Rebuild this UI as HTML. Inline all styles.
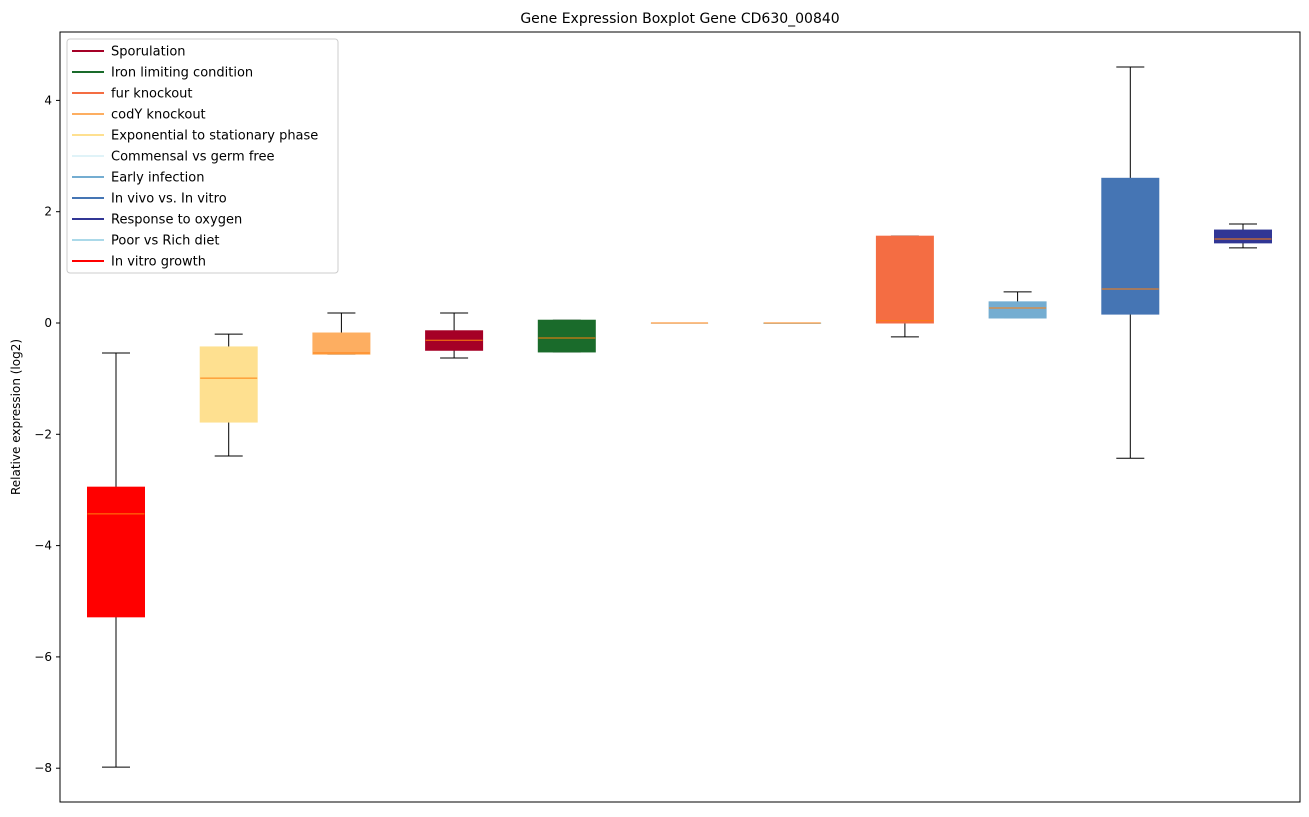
<!DOCTYPE html>
<html><head><meta charset="utf-8"><style>
body{margin:0;background:#fff;font-family:"Liberation Sans","DejaVu Sans",sans-serif;}
svg text{font-family:"DejaVu Sans","Liberation Sans",sans-serif;}
</style></head><body>
<svg id="chart" width="1309" height="812" xmlns="http://www.w3.org/2000/svg"></svg>
<script>
const categories=["In vitro growth","Exponential to stationary phase","codY knockout","Sporulation","Iron limiting condition","Commensal vs germ free","Poor vs Rich diet","fur knockout","Early infection","In vivo vs. In vitro","Response to oxygen"];
const whiskerLow=[-7.98,-2.39,-0.56,-0.63,-0.52,0,0,-0.25,0.09,-2.43,1.35];
const q1Values=[-5.28,-1.78,-0.56,-0.49,-0.52,0,0,0,0.09,0.16,1.44];
const medianValues=[-3.43,-0.99,-0.54,-0.31,-0.27,0,0,0.04,0.27,0.61,1.51];
const q3Values=[-2.95,-0.43,-0.18,-0.14,0.05,0,0,1.56,0.38,2.6,1.67];
const whiskerHigh=[-0.54,-0.2,0.18,0.18,0.05,0,0,1.56,0.56,4.6,1.78];
const boxColors=["#ff0000","#fee090","#fdae61","#a50026","#1a6b2b","#e0f3f8","#abd9e9","#f46d43","#74add1","#4575b4","#313695"];
const yTicks=[-8,-6,-4,-2,0,2,4];
const legendLabels=["Sporulation","Iron limiting condition","fur knockout","codY knockout","Exponential to stationary phase","Commensal vs germ free","Early infection","In vivo vs. In vitro","Response to oxygen","Poor vs Rich diet","In vitro growth"];
const legendColors=["#a50026","#1a6b2b","#f46d43","#fdae61","#fee090","#e0f3f8","#74add1","#4575b4","#313695","#abd9e9","#ff0000"];

const NS="http://www.w3.org/2000/svg";
const svg=document.getElementById('chart');
const L=60,R=1300,T=32,B=802;
const y=v=>323-v*55.65;
const x=i=>116+i*112.7;
function mk(tag,attrs,parent){const e=document.createElementNS(NS,tag);for(const k in attrs)e.setAttribute(k,attrs[k]);(parent||svg).appendChild(e);return e;}

let t=mk('text',{x:680,y:23,'text-anchor':'middle','font-size':14,fill:'#000'});t.textContent="Gene Expression Boxplot Gene CD630_00840";


t=mk('text',{x:20,y:417,'text-anchor':'middle','font-size':12,transform:'rotate(-90 20 417)'});t.textContent="Relative expression (log2)";



yTicks.forEach(v=>{
  mk('line',{x1:L-4,x2:L,y1:y(v),y2:y(v),stroke:'#000'});
  const tx=mk('text',{x:L-8,y:y(v)+4,'text-anchor':'end','font-size':12});
  tx.textContent=(v<0?'\u2212'+(-v):v);
  
  
});

categories.forEach((c,i)=>{
  const g=mk('g',{});
  
  
  const cx=x(i),hw=28.5,cw=14;
  mk('line',{x1:cx,x2:cx,y1:y(whiskerHigh[i]),y2:y(q3Values[i]),stroke:'#000'},g);
  mk('line',{x1:cx,x2:cx,y1:y(q1Values[i]),y2:y(whiskerLow[i]),stroke:'#000'},g);
  mk('line',{x1:cx-cw,x2:cx+cw,y1:y(whiskerHigh[i]),y2:y(whiskerHigh[i]),stroke:'#000'},g);
  mk('line',{x1:cx-cw,x2:cx+cw,y1:y(whiskerLow[i]),y2:y(whiskerLow[i]),stroke:'#000'},g);
  const top=y(q3Values[i]),bot=y(q1Values[i]);
  mk('rect',{x:cx-hw,y:top,width:2*hw,height:Math.max(bot-top,0.5),fill:boxColors[i],stroke:boxColors[i]},g);
  mk('line',{x1:cx-hw,x2:cx+hw,y1:y(medianValues[i]),y2:y(medianValues[i]),stroke:'#ff7f0e','stroke-width':1},g);
});

mk('rect',{x:L,y:T,width:R-L,height:B-T,fill:'none',stroke:'#000'});

const lg=mk('g',{});


mk('rect',{x:67,y:39,width:271,height:234,fill:'#fff','fill-opacity':0.8,stroke:'#ccc',rx:3},lg);
legendLabels.forEach((s,i)=>{
  const ly=51+i*21;
  const e=mk('g',{},lg);
  
  
  mk('line',{x1:72,x2:104,y1:ly,y2:ly,stroke:legendColors[i],'stroke-width':2},e);
  const tx=mk('text',{x:111,y:ly+4.5,'font-size':13},e);tx.textContent=s;
});
</script>
</body></html>
